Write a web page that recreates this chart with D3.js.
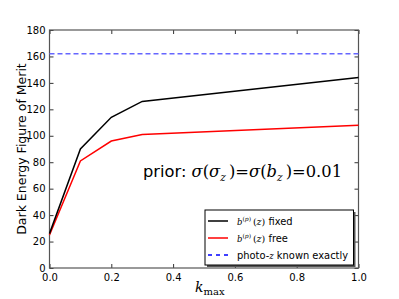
<!DOCTYPE html>
<html><head><meta charset="utf-8">
<script src="https://cdn.jsdelivr.net/npm/d3@7"></script>
<style>body{margin:0;background:#fff}svg{display:block}</style>
</head><body>
<svg id="c" width="399" height="299"></svg>
<script>
const kmax = [0.0, 0.1, 0.2, 0.3, 1.0];
const fixedFoM = [26, 90, 114, 126, 144];
const freeFoM = [25, 81, 96, 101, 108];
const exactFoM = 162;
const xTicks = [0.0, 0.2, 0.4, 0.6, 0.8, 1.0];
const yTicks = [0, 20, 40, 60, 80, 100, 120, 140, 160, 180];

const svg = d3.select("#c");
const L = 49.5, R = 358.5, T = 30, B = 268;
const x = d3.scaleLinear().domain([0, 1]).range([L, R]);
const y = d3.scaleLinear().domain([0, 180]).range([B, T]);
const sans = "'DejaVu Sans', sans-serif";
const serif = "'DejaVu Serif', 'Liberation Serif', serif";

const g = svg.append("g");
const xa = g.append("g").attr("transform", `translate(0,${B})`)
  .call(d3.axisBottom(x).tickValues(xTicks).tickFormat(d3.format(".1f")).tickSizeInner(-4).tickSizeOuter(0).tickPadding(6));
const xt = g.append("g").attr("transform", `translate(0,${T})`)
  .call(d3.axisTop(x).tickValues(xTicks).tickFormat("").tickSizeInner(-4).tickSizeOuter(0));
const ya = g.append("g").attr("transform", `translate(${L},0)`)
  .call(d3.axisLeft(y).tickValues(yTicks).tickFormat(d3.format("d")).tickSizeInner(-4).tickSizeOuter(0).tickPadding(4));
const yr = g.append("g").attr("transform", `translate(${R},0)`)
  .call(d3.axisRight(y).tickValues(yTicks).tickFormat("").tickSizeInner(-4).tickSizeOuter(0));
[xa, xt, ya, yr].forEach(a => {
  a.select(".domain").remove();
  a.selectAll("line").attr("stroke", "#333");
  a.selectAll("text").attr("font-family", sans).attr("font-size", 10).attr("fill", "#000");
});
g.append("rect").attr("x", L).attr("y", T).attr("width", R - L).attr("height", B - T)
  .attr("fill", "none").attr("stroke", "#555").attr("stroke-width", 1.2);

const line = d3.line().x(d => x(d[0])).y(d => y(d[1]));
g.append("line").attr("x1", x(0)).attr("x2", x(1)).attr("y1", y(exactFoM)).attr("y2", y(exactFoM))
  .attr("stroke", "#6666ff").attr("stroke-width", 1.5).attr("stroke-dasharray", "5,3");
g.append("path").datum(kmax.map((k, i) => [k, freeFoM[i]])).attr("d", line)
  .attr("fill", "none").attr("stroke", "#ff0000").attr("stroke-width", 1.5);
g.append("path").datum(kmax.map((k, i) => [k, fixedFoM[i]])).attr("d", line)
  .attr("fill", "none").attr("stroke", "#000").attr("stroke-width", 1.5);

svg.append("text").attr("transform", "translate(26,149) rotate(-90)").attr("text-anchor", "middle")
  .attr("font-family", sans).attr("font-size", 12.5).text("Dark Energy Figure of Merit");
const xl = svg.append("text").attr("x", 195).attr("y", 292).attr("font-family", serif).attr("font-size", 14);
xl.append("tspan").attr("font-style", "italic").text("k");
xl.append("tspan").attr("font-size", 10).attr("dy", 3).text("max");

const pr = svg.append("text").attr("x", 143).attr("y", 177).attr("font-size", 16.3);
pr.append("tspan").attr("font-family", sans).text("prior: ");
const ms = (t, o = {}) => { const s = pr.append("tspan").attr("font-family", serif).text(t); for (const k in o) s.attr(k, o[k]); return s; };
ms("σ", {"font-style": "italic"}); ms("(");
ms("σ", {"font-style": "italic"});
ms("z", {"font-style": "italic", "font-size": 10.5, "dy": 4});
ms("\u2009)", {"dy": -4}); ms("=");
ms("σ", {"font-style": "italic"}); ms("(");
ms("b", {"font-style": "italic"});
ms("z", {"font-style": "italic", "font-size": 10.5, "dy": 4});
ms("\u2009)", {"dy": -4}); ms("=0.01");

const lx = 205, ly = 210, lw = 148.5, lh = 55;
svg.append("rect").attr("x", lx + 2).attr("y", ly + 2).attr("width", lw).attr("height", lh).attr("fill", "#555");
svg.append("rect").attr("x", lx).attr("y", ly).attr("width", lw).attr("height", lh).attr("fill", "#fff").attr("stroke", "#000").attr("stroke-width", 1);
const items = [
  {c: "#000", dash: null, math: true, t: " fixed"},
  {c: "#ff0000", dash: null, math: true, t: " free"},
  {c: "#0000ff", dash: "4,4", math: false, t: "known exactly"}
];
items.forEach((it, i) => {
  const yy = ly + 11 + i * 17;
  svg.append("line").attr("x1", lx + 3).attr("x2", lx + 23).attr("y1", yy).attr("y2", yy)
    .attr("stroke", it.c).attr("stroke-width", 1.5).attr("stroke-dasharray", it.dash);
  const t = svg.append("text").attr("x", lx + 32).attr("y", yy + 4).attr("font-size", 9.9);
  if (it.math) {
    t.append("tspan").attr("font-family", serif).attr("font-style", "italic").attr("font-size", 8.5).text("b");
    t.append("tspan").attr("font-family", serif).attr("font-size", 6).attr("dy", -4).text("(");
    t.append("tspan").attr("font-family", serif).attr("font-style", "italic").attr("font-size", 6).text("p");
    t.append("tspan").attr("font-family", serif).attr("font-size", 6).text(")");
    t.append("tspan").attr("font-family", serif).attr("dy", 4).attr("font-size", 9.5).text("\u2009(");
    t.append("tspan").attr("font-family", serif).attr("font-style", "italic").attr("font-size", 9.5).text("z");
    t.append("tspan").attr("font-family", serif).attr("font-size", 9.5).text(")");
    t.append("tspan").attr("font-family", sans).text(it.t);
  } else {
    t.append("tspan").attr("font-family", sans).text("photo-");
    t.append("tspan").attr("font-family", serif).attr("font-style", "italic").attr("font-size", 8.5).text("z");
    t.append("tspan").attr("font-family", sans).text(" " + it.t);
  }
});
</script>
</body></html>
